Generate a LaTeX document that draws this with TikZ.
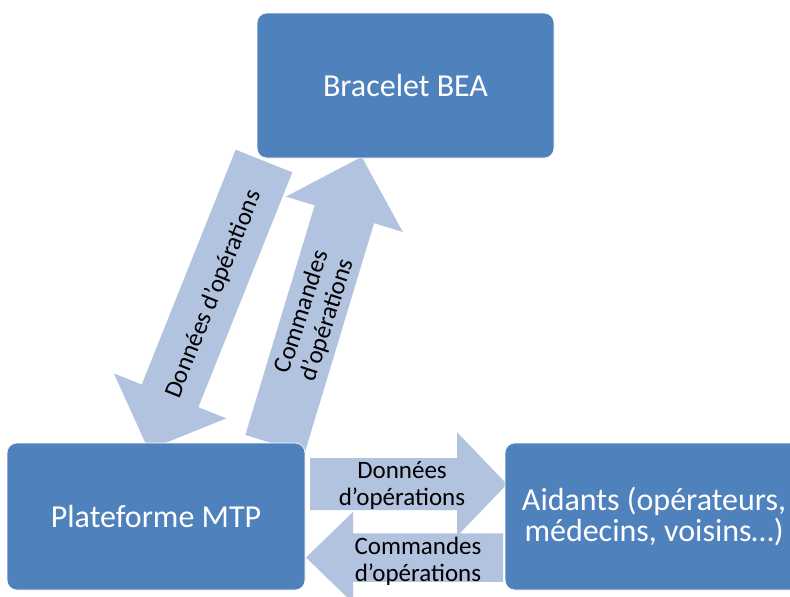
\documentclass[tikz,border=0pt]{standalone}
\usepackage{fontspec}
\setmainfont{Carlito}
\definecolor{boxblue}{HTML}{4F81BD}
\definecolor{arrowblue}{HTML}{B2C3DF}
% block arrow: tail x, tail y, direction, total length, shaft width, head width, head length
\newcommand{\blockarrow}[7]{%
  \begin{scope}[shift={(#1,#2)}, rotate=#3]
    \fill[arrowblue] (0,{-#5/2}) -- ({#4-#7},{-#5/2}) -- ({#4-#7},{-#6/2})
      -- (#4,0) -- ({#4-#7},{#6/2}) -- ({#4-#7},{#5/2}) -- (0,{#5/2}) -- cycle;
  \end{scope}}
\tikzset{
  bigbox/.style={draw=white, line width=0.6pt, fill=boxblue, rounded corners=10pt,
    text=white, align=center, inner sep=0pt,
    font=\fontsize{32}{31}\selectfont},
  arrowtext/.style={text=black, align=center, inner sep=0pt,
    font=\fontsize{25}{27}\selectfont}
}
\begin{document}
\begin{tikzpicture}[x=1pt,y=-1pt]
  \clip (0,0) rectangle (790,597);
  \fill[white] (0,0) rectangle (790,597);

  % arrows between the bracelet and the platform
  \blockarrow{264}{161}{-111.8}{311}{61}{121}{58}
  \blockarrow{275}{444}{73.2}{300}{62}{122}{60}
  \node[arrowtext, rotate=68.2] (dlab) at (214,294) {Données d’opérations};
  \node[arrowtext, rotate=72] (ulab) at (315,316) {Commandes\\d’opérations};

  % arrows between the platform and the helpers
  \blockarrow{310}{484.2}{0}{197}{52}{104}{50}
  \blockarrow{503}{557.5}{180}{197}{48.5}{91}{47}
  \node[arrowtext] (rlab) at (402,485.5) {Données\\d’opérations};
  \node[arrowtext] (llab) at (418,561) {Commandes\\d’opérations};

  % the three blocks
  \node[bigbox, minimum width=297pt, minimum height=145pt] (bea) at (405.5,85.5) {Bracelet BEA};
  \node[bigbox, minimum width=298pt, minimum height=147pt] (mtp) at (156,516.5) {Plateforme MTP};
  \node[bigbox, minimum width=298pt, minimum height=147pt] (aid) at (654,516.5) {Aidants (opérateurs,\\médecins, voisins…)};
\end{tikzpicture}
\end{document}
